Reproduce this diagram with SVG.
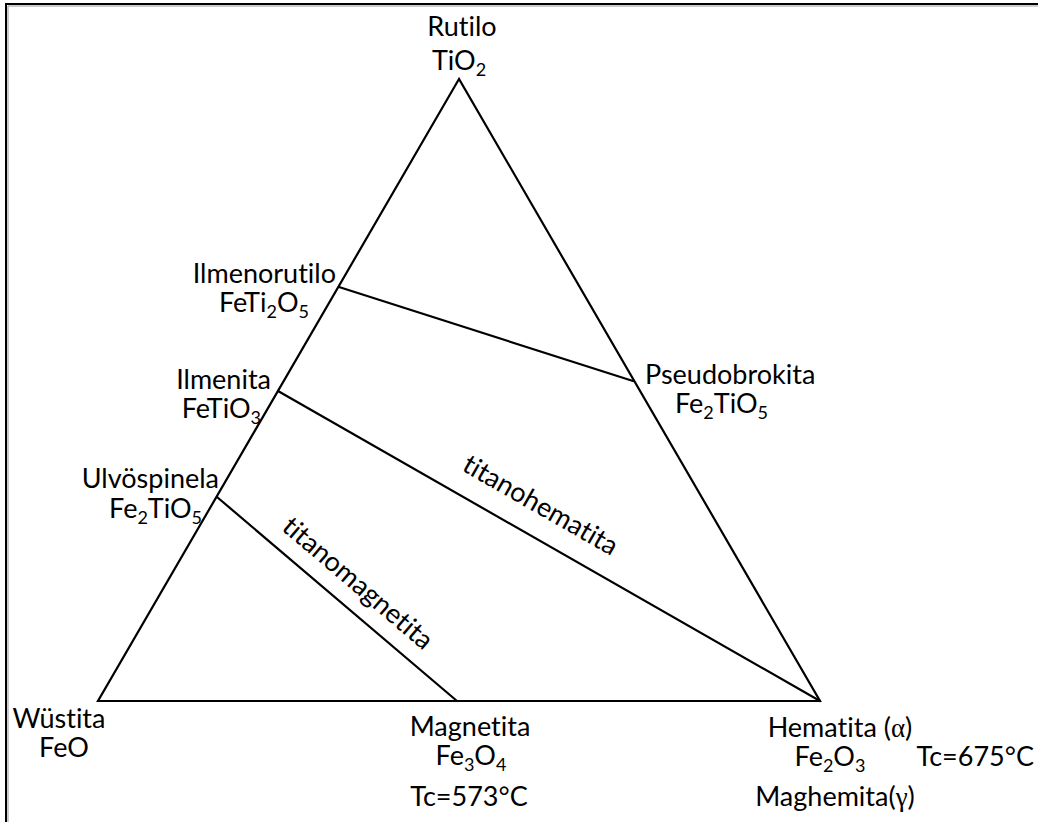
<svg xmlns="http://www.w3.org/2000/svg" width="1038" height="822" viewBox="0 0 1038 822">
<style>
.t{font-family:Lato,"Open Sans","Liberation Sans",sans-serif;font-size:27px;fill:#000;font-variant-ligatures:none;font-feature-settings:"liga" 0,"clig" 0}
.m{text-anchor:middle}
.e{text-anchor:end}
.s{font-size:18px}
.g{font-family:"Liberation Serif",serif}
.ln{stroke:#000;stroke-width:2.2;fill:none;stroke-linecap:round;stroke-linejoin:miter}
</style>
<rect width="1038" height="822" fill="#fff"/>
<g id="frame">
<line x1="6" y1="4" x2="1038" y2="4" stroke="#000" stroke-width="2"/>
<line x1="8" y1="6" x2="1038" y2="6" stroke="#999" stroke-width="1"/>
<line x1="6" y1="3" x2="6" y2="822" stroke="#000" stroke-width="2"/>
<line x1="8" y1="6" x2="8" y2="822" stroke="#999" stroke-width="1"/>
</g>
<g id="connectors">
<polygon class="ln" points="459,79 98,701 820,701"/>
<line class="ln" x1="339" y1="287" x2="633" y2="381"/>
<line class="ln" x1="278" y1="391" x2="820" y2="701"/>
<line class="ln" x1="217" y1="497" x2="457" y2="701"/>
</g>
<g id="rutilo">
<text class="t m" x="462" y="36">Rutilo</text>
<text class="t m" x="459" y="70">TiO<tspan class="s" dy="6">2</tspan></text>
</g>
<g id="ilmenorutilo">
<text class="t e" x="336" y="283">Ilmenorutilo</text>
<text class="t e" x="309" y="312">FeTi<tspan class="s" dy="6">2</tspan><tspan dy="-6">O</tspan><tspan class="s" dy="6">5</tspan></text>
</g>
<g id="ilmenita">
<text class="t e" x="271" y="389">Ilmenita</text>
<text class="t e" x="261" y="418">FeTiO<tspan class="s" dy="6">3</tspan></text>
</g>
<g id="ulvospinela">
<text class="t e" x="219" y="488">Ulvöspinela</text>
<text class="t e" x="202" y="518">Fe<tspan class="s" dy="6">2</tspan><tspan dy="-6">TiO</tspan><tspan class="s" dy="6">5</tspan></text>
</g>
<g id="pseudobrokita">
<text class="t" x="645" y="384">Pseudobrokita</text>
<text class="t" x="675" y="413">Fe<tspan class="s" dy="6">2</tspan><tspan dy="-6">TiO</tspan><tspan class="s" dy="6">5</tspan></text>
</g>
<g id="wustita">
<text class="t m" x="59" y="728">Wüstita</text>
<text class="t m" x="64" y="757">FeO</text>
</g>
<g id="magnetita">
<text class="t m" x="470" y="736">Magnetita</text>
<text class="t m" x="471" y="765">Fe<tspan class="s" dy="6">3</tspan><tspan dy="-6">O</tspan><tspan class="s" dy="6">4</tspan></text>
<text class="t m" x="469" y="806">Tc=573°C</text>
</g>
<g id="hematita">
<text class="t m" x="840" y="737">Hematita (<tspan class="g">α</tspan>)</text>
<text class="t m" x="830" y="766">Fe<tspan class="s" dy="6">2</tspan><tspan dy="-6">O</tspan><tspan class="s" dy="6">3</tspan></text>
<text class="t e" x="1034" y="766">Tc=675°C</text>
<text class="t m" x="835" y="806">Maghemita(<tspan class="g">γ</tspan>)</text>
</g>
<g id="titanohematita">
<text class="t m" transform="translate(536,513) rotate(29.8)">titanohematita</text>
</g>
<g id="titanomagnetita">
<text class="t m" transform="translate(352,590) rotate(40.4)">titanomagnetita</text>
</g>
</svg>
